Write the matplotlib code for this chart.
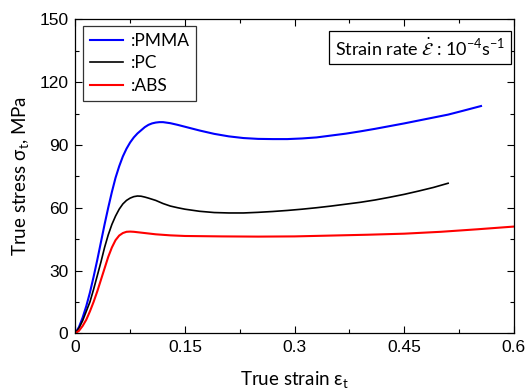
import matplotlib
matplotlib.use("Agg")
import matplotlib.pyplot as plt
from matplotlib.ticker import MultipleLocator

# Data
pmma_x = [0.0, 0.005, 0.01, 0.015, 0.02, 0.025, 0.03, 0.035, 0.04, 0.045, 0.05, 0.055,
          0.06, 0.065, 0.07, 0.075, 0.08, 0.085, 0.09, 0.095, 0.10, 0.105, 0.11, 0.115,
          0.12, 0.13, 0.14, 0.15, 0.17, 0.19, 0.21, 0.23, 0.25, 0.27, 0.29, 0.31, 0.33,
          0.35, 0.37, 0.39, 0.41, 0.43, 0.45, 0.47, 0.49, 0.51, 0.53, 0.555]
pmma_y = [0.0, 3.0, 7.5, 13.0, 19.5, 27.0, 35.0, 43.5, 52.0, 60.0, 67.5, 74.3,
          79.8, 84.5, 88.2, 91.2, 93.6, 95.5, 97.0, 98.5, 99.6, 100.3, 100.7, 100.9,
          100.9, 100.4, 99.6, 98.7, 96.9, 95.3, 94.1, 93.3, 92.9, 92.8, 92.8, 93.1, 93.6,
          94.5, 95.4, 96.5, 97.7, 99.0, 100.3, 101.7, 103.1, 104.5, 106.3, 108.6]

pc_x = [0.0, 0.005, 0.01, 0.015, 0.02, 0.025, 0.03, 0.035, 0.04, 0.045, 0.05, 0.055,
        0.06, 0.065, 0.07, 0.075, 0.08, 0.085, 0.09, 0.095, 0.10, 0.11, 0.12, 0.13,
        0.14, 0.15, 0.17, 0.19, 0.21, 0.23, 0.25, 0.27, 0.29, 0.31, 0.33, 0.35, 0.37,
        0.39, 0.41, 0.43, 0.45, 0.47, 0.49, 0.51]
pc_y = [0.0, 2.5, 6.0, 10.5, 15.0, 21.0, 27.5, 34.0, 41.0, 47.0, 52.0, 56.0,
        59.3, 61.8, 63.5, 64.6, 65.3, 65.6, 65.5, 65.1, 64.6, 63.5, 62.0, 60.8,
        60.0, 59.3, 58.3, 57.7, 57.5, 57.5, 57.8, 58.2, 58.7, 59.3, 60.0, 60.8, 61.7,
        62.6, 63.7, 65.0, 66.4, 68.0, 69.7, 71.7]

abs_x = [0.0, 0.005, 0.01, 0.015, 0.02, 0.025, 0.03, 0.035, 0.04, 0.045, 0.05, 0.055,
         0.06, 0.065, 0.07, 0.075, 0.08, 0.09, 0.10, 0.11, 0.13, 0.15, 0.20, 0.25,
         0.30, 0.35, 0.40, 0.45, 0.50, 0.55, 0.60]
abs_y = [0.0, 1.2, 3.5, 6.5, 10.5, 15.0, 20.0, 25.5, 31.0, 36.5, 41.0, 44.5,
         46.7, 47.9, 48.5, 48.6, 48.5, 48.1, 47.7, 47.3, 46.8, 46.5, 46.3, 46.2,
         46.3, 46.7, 47.1, 47.6, 48.5, 49.7, 51.0]

x_ticks = [0, 0.15, 0.3, 0.45, 0.6]
x_ticklabels = ["0", "0.15", "0.3", "0.45", "0.6"]
y_ticks = [0, 30, 60, 90, 120, 150]

lab_font = "Lato"
tick_font = "Liberation Sans"

fig = plt.figure(figsize=(5.26, 3.91), dpi=100)
ax = fig.add_axes([0.1432, 0.1476, 0.977 - 0.1432, 0.9504 - 0.1476])

ax.plot(pmma_x, pmma_y, color="#0000ff", lw=1.5, label=":PMMA")
ax.plot(pc_x, pc_y, color="black", lw=1.2, label=":PC")
ax.plot(abs_x, abs_y, color="#ff0000", lw=1.5, label=":ABS")

ax.set_xlim(0, 0.6)
ax.set_ylim(0, 150)
ax.set_xticks(x_ticks)
ax.set_xticklabels(x_ticklabels)
ax.set_yticks(y_ticks)
ax.xaxis.set_minor_locator(MultipleLocator(0.075))
ax.yaxis.set_minor_locator(MultipleLocator(15))
ax.tick_params(which="both", direction="in", top=True, right=True)
ax.tick_params(which="major", length=5, width=0.8, labelsize=12.5, pad=5)
ax.tick_params(which="minor", length=3, width=0.8)
for lbl in ax.get_xticklabels() + ax.get_yticklabels():
    lbl.set_fontfamily(tick_font)
for s in ax.spines.values():
    s.set_linewidth(0.9)

ax.set_xlabel(r"True strain $\mathregular{\varepsilon_t}$", fontsize=13.5, family=lab_font, labelpad=10)
ax.set_ylabel(r"True stress $\mathregular{\sigma_t}$, MPa", fontsize=13.5, family=lab_font, labelpad=6)

leg = ax.legend(loc="upper left", bbox_to_anchor=(0.017, 0.98), prop={"family": lab_font, "size": 12.5},
                frameon=True, fancybox=False, edgecolor="black", handlelength=1.9,
                handletextpad=0.45, borderpad=0.4, labelspacing=0.38, borderaxespad=0)
leg.get_frame().set_linewidth(0.9)

ax.text(0.98, 0.945, r"Strain rate $\dot{\mathcal{E}}$ : 10$^{\mathregular{-4}}$s$^{\mathregular{-1}}$",
        transform=ax.transAxes, ha="right", va="top", fontsize=13, family=lab_font,
        bbox=dict(boxstyle="square,pad=0.3", fc="white", ec="black", lw=0.9))

fig.savefig("out.png", dpi=100)
